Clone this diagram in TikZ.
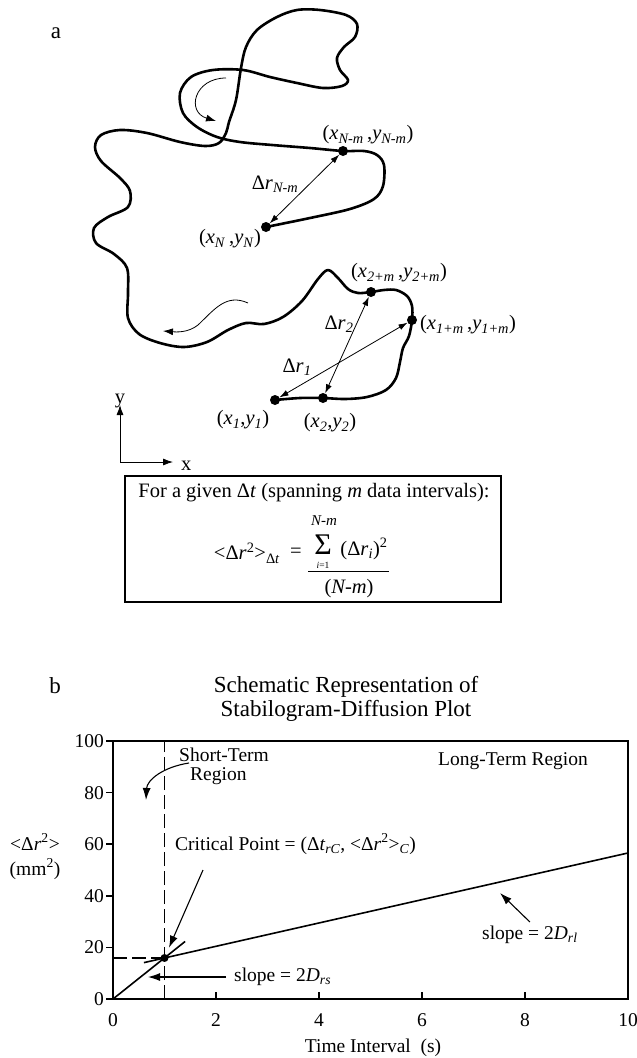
\documentclass[tikz,border=0pt]{standalone}
\usepackage{fontspec}
\setmainfont{Liberation Serif}
\usetikzlibrary{arrows.meta}
\newcommand{\fsA}{\fontsize{20.5}{23}\selectfont}
\newcommand{\fsB}{\fontsize{19.5}{22}\selectfont}
\newcommand{\fsT}{\fontsize{23}{26}\selectfont}
\newcommand{\sbs}[1]{\textsubscript{\textit{#1}}}
\newcommand{\sps}[1]{\textsuperscript{#1}}
\begin{document}
\begin{tikzpicture}[x=1pt,y=-1pt,
  curve/.style={line width=2.6pt,line join=round,line cap=round},
  dot/.style={circle,fill,inner sep=0pt,minimum size=10pt},
  cdot/.style={circle,fill,inner sep=0pt,minimum size=8pt},
  dra/.style={line width=0.8pt,{Latex[length=9pt,width=6pt]}-{Latex[length=9pt,width=6pt]}},
  sra/.style={line width=0.8pt,-{Latex[length=10pt,width=7pt]}},
  pra/.style={line width=1.1pt,-{Latex[length=12pt,width=8pt]}},
  lbl/.style={font=\fsA,inner sep=0pt},
  lblb/.style={font=\fsB,inner sep=0pt},
  frm/.style={line width=1.6pt},
  dsh/.style={line width=1.1pt,dash pattern=on 14pt off 5pt}]
\useasboundingbox (0,0) rectangle (637,1058);
% ---------------- part a ----------------
\node[font=\fsT,inner sep=0pt] (la) at (56,33) {a};
\draw[curve] plot[smooth,tension=0.55] coordinates {
(275,400) (300,398) (323,398) (345,399) (367,397) (386,390) (396,378) (400,362) (403,348) (409,336) (412,320)
(412,306) (407,296) (396,290) (384,290) (371,292) (358,293) (348,289) (338,278) (328,270) (318,279) (302,301)
(283,317) (264,324) (246,323) (228,330) (207,342) (184,347) (160,343) (139,334) (128,318) (128,293) (127,268)
(114,254) (96,243) (94,228) (108,217) (128,207) (130,191) (120,178) (101,161) (95,147) (101,135) (120,130)
(147,133) (180,142) (205,146) (219,143) (226,133) (229,122) (236,100) (241,68) (246,47) (257,30) (277,17)
(297,10) (320,10) (346,15) (357,24) (355,37) (344,47) (337,58) (340,70) (348,80) (342,86) (323,88) (297,83)
(270,77) (243,70) (213,70) (191,77) (180,93) (183,113) (197,127) (217,137) (240,142) (272,145) (310,148)
(343,151) (364,151) (377,155) (384,165) (383,186) (374,199) (350,209) (310,218) (266,227)};
\node[dot] (d1) at (275,400) {};
\node[dot] (d2) at (323,398) {};
\node[dot] (d1m) at (412,320) {};
\node[dot] (d2m) at (371,292) {};
\node[dot] (dNm) at (343,151) {};
\node[dot] (dN) at (266,227) {};
\draw[dra] (dN) -- (dNm);
\draw[dra] (d1) -- (d1m);
\draw[dra] (d2) -- (d2m);
\node[lbl] (lNm) at (368,135) {(\textit{x}\sbs{N-m}\,,\textit{y}\sbs{N-m})};
\node[lbl] (lN) at (230,239) {(\textit{x}\sbs{N}\,,\textit{y}\sbs{N})};
\node[lbl] (lrNm) at (275,184) {Δ\textit{r}\sbs{N-m}};
\node[lbl] (l2m) at (399,273) {(\textit{x}\sbs{2+m}\,,\textit{y}\sbs{2+m})};
\node[lbl] (l1m) at (468,325) {(\textit{x}\sbs{1+m}\,,\textit{y}\sbs{1+m})};
\node[lbl] (lr2) at (339,324) {Δ\textit{r}\sbs{2}};
\node[lbl] (lr1) at (297,367) {Δ\textit{r}\sbs{1}};
\node[lbl] (l1) at (243,420) {(\textit{x}\sbs{1},\textit{y}\sbs{1})};
\node[lbl] (l2) at (330,423) {(\textit{x}\sbs{2},\textit{y}\sbs{2})};
% direction arrows
\coordinate (la1) at (226,78);
\coordinate (la2) at (216,121);
\draw[sra] (la1) .. controls (194,78) and (186,112) .. (la2);
\coordinate (wa1) at (248,303);
\coordinate (wa2) at (163,331);
\draw[sra] (wa1) .. controls (226,293) and (214,310) .. (198,325) .. controls (188,333) and (176,332) .. (wa2);
% axes icon
\coordinate (ax0) at (120,462);
\coordinate (axY) at (120,405);
\coordinate (axX) at (173,462);
\draw[sra] (ax0) -- (axY);
\draw[sra] (ax0) -- (axX);
\node[font=\fsA,inner sep=0pt,anchor=base] (ly) at (120,403) {y};
\node[font=\fsA,inner sep=0pt,anchor=base west] (lx) at (181,470) {x};
% formula box
\node[draw,line width=1.4pt,minimum width=376pt,minimum height=126pt,inner sep=0pt] (box) at (313,539) {};
\node[lbl] (ftxt) at (314,493) {For a given Δ\textit{t} (spanning \textit{m} data intervals):};
\node[lbl] (lhs) at (247,553) {<Δ\textit{r}\sps{2}>\textsubscript{Δ\textit{t}}};
\node[lbl] (eq) at (296,553) {=};
\node[font=\fontsize{30}{32}\selectfont,inner sep=0pt,text depth=0pt,anchor=base] (sig) at (323,554) {Σ};
\node[font=\fontsize{15}{17}\selectfont\itshape,inner sep=0pt] (supl) at (324,521) {N-m};
\node[font=\fontsize{9.5}{10}\selectfont,inner sep=0pt,text depth=0pt,anchor=base] (subl) at (323,568) {\textit{i}=1};
\node[lbl] (num) at (364,549) {(Δ\textit{r}\sbs{i})\sps{2}};
\draw[line width=1pt] (308,571) -- (389,571);
\node[lbl] (den) at (349,589) {(\textit{N-m})};
% ---------------- part b ----------------
\node[font=\fsT,inner sep=0pt] (lb) at (55,686) {b};
\node[font=\fsT,inner sep=0pt] (t1) at (346,687) {Schematic Representation of};
\node[font=\fsT,inner sep=0pt] (t2) at (346,711) {Stabilogram-Diffusion Plot};
\begin{scope}[shift={(113,999)},x=51.5pt,y=2.58pt]
  \draw[frm] (0,0) rectangle (10,100);
  \foreach \v in {0,20,40,60,80,100} {
    \draw[frm] (0,\v) -- ++(-7pt,0pt);
    \node[lblb,anchor=east] (yt\v) at ([xshift=-9pt]0,\v) {\v};
  }
  \foreach \v in {2,4,6,8} \draw[frm] (\v,0) -- ++(0pt,7pt);
  \foreach \v in {0,2,4,6,8,10} \node[lblb] (xt\v) at ([yshift=-21pt]\v,0) {\v};
  \draw[dsh] (1,0) -- (1,100);
  \draw[dsh] (0,15.9) -- (1,15.9);
  \draw[frm] (0,0) -- (1.4,22.3);
  \draw[frm] (0.6,14.1) -- (10,56.6);
  \node[cdot] (cp) at (1,15.9) {};
\end{scope}
\node[lblb,anchor=west] (st1) at (179,755) {Short-Term};
\node[lblb,anchor=west] (st2) at (190,776) {Region};
\node[lblb] (ltr) at (513,761) {Long-Term Region};
\node[lblb,anchor=west] (crit) at (175,844) {Critical Point = (Δ\textit{t}\sbs{rC}, <Δ\textit{r}\sps{2}>\sbs{C})};
\node[lblb,anchor=west] (srs) at (234,977) {slope = 2\textit{D}\sbs{rs}};
\node[lblb,anchor=west] (srl) at (482,935) {slope = 2\textit{D}\sbs{rl}};
\node[lblb] (ylab1) at (35,842) {<Δ\textit{r}\sps{2}>};
\node[lblb] (ylab2) at (35,869) {(mm\sps{2})};
\node[lblb] (xlab) at (373,1048) {Time Interval\ \ (s)};
\coordinate (stA) at (189,763);
\coordinate (stB) at (146,800);
\draw[pra] (stA) .. controls (163,767) and (147,780) .. (stB);
\coordinate (crA) at (203,870);
\draw[pra,shorten >=7pt] (crA) -- (cp);
\coordinate (srsT) at (148,977);
\draw[pra] ([xshift=-8pt]srs.west) -- (srsT);
\coordinate (srlT) at (500,893);
\draw[pra] ([yshift=4pt]srl.north) -- (srlT);
\end{tikzpicture}
\end{document}
